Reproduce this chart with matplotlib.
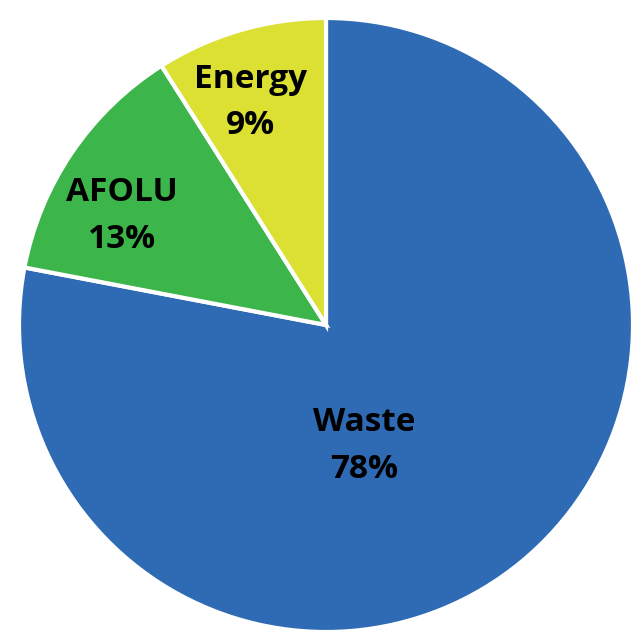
import matplotlib.pyplot as plt

labels = ['Waste', 'AFOLU', 'Energy']
shares = [78, 13, 9]
colors = ['#2e6bb4', '#3cb54a', '#dbe033']
# label centres in axes data units (pie radius = 1)
label_xy = [(0.125, -0.395), (-0.665, 0.355), (-0.245, 0.725)]

fig = plt.figure(figsize=(6.43, 6.41), dpi=100)
ax = fig.add_axes([19 / 643, 9 / 641, 614 / 643, 614 / 641])
ax.pie(shares, colors=colors, startangle=90, counterclock=False,
       wedgeprops=dict(edgecolor='white', linewidth=3))
for name, val, (x, y) in zip(labels, shares, label_xy):
    ax.text(x, y, f'{name}\n{val}%', ha='center', va='center',
            fontsize=24, fontweight='bold', family='Open Sans',
            linespacing=1.55, color='black')
ax.set_xlim(-1.0, 1.0)
ax.set_ylim(-1.0, 1.0)
ax.set_aspect('equal')
ax.axis('off')
fig.savefig('out.png', dpi=100)
